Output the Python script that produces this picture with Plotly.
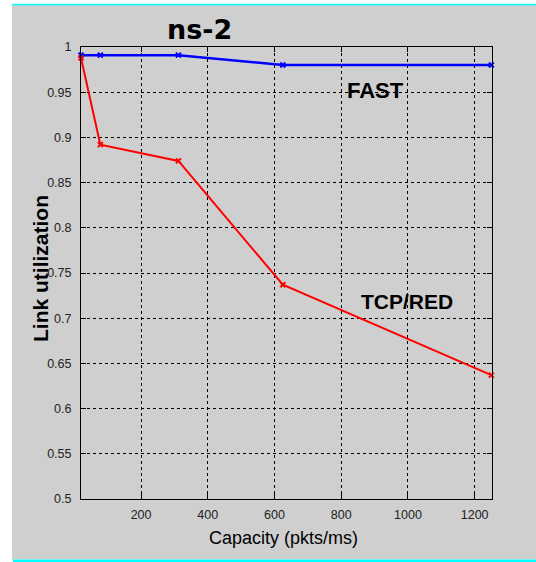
import plotly.graph_objects as go

# Link utilization vs. capacity (ns-2 simulation)
capacity = [20, 78, 312, 625, 1250]
fast_util = [0.991, 0.991, 0.991, 0.980, 0.980]
tcp_red_util = [0.988, 0.892, 0.874, 0.737, 0.637]

x_ticks = [200, 400, 600, 800, 1000, 1200]
y_ticks = [0.5, 0.55, 0.6, 0.65, 0.7, 0.75, 0.8, 0.85, 0.9, 0.95, 1.0]
y_tick_text = ["0.5", "0.55", "0.6", "0.65", "0.7", "0.75", "0.8", "0.85", "0.9", "0.95", "1"]

W, H = 536, 562
L, R, T, B = 81, 44, 47, 63
PW, PH = W - L - R, H - T - B


def px_x(px):
    return (px - L) / PW


def px_y(py):
    return (H - B - py) / PH


SANS = "Liberation Sans, Arial, sans-serif"

fig = go.Figure()

fig.add_trace(go.Scatter(
    x=capacity, y=fast_util, mode="lines+markers", name="FAST",
    line=dict(color="#0000ff", width=2.5),
    marker=dict(symbol="x-thin-open", size=5, color="#0000ff",
                line=dict(color="#0000ff", width=2)),
    cliponaxis=False,
))
fig.add_trace(go.Scatter(
    x=capacity, y=tcp_red_util, mode="lines+markers", name="TCP/RED",
    line=dict(color="#ff0000", width=2),
    marker=dict(symbol="x-thin-open", size=5, color="#ff0000",
                line=dict(color="#ff0000", width=2)),
    cliponaxis=False,
))

axis_common = dict(
    showline=True, linecolor="black", linewidth=1, mirror="ticks",
    ticks="inside", ticklen=5, tickcolor="black",
    showgrid=True, gridcolor="black", gridwidth=1, griddash="3px,3px",
    zeroline=False,
    tickfont=dict(family=SANS, size=12.5, color="#222222"),
)

fig.update_xaxes(range=[20, 1252], tickvals=x_ticks,
                 ticklabelstandoff=4, **axis_common)
fig.update_yaxes(range=[0.5, 1.0], tickvals=y_ticks, ticktext=y_tick_text,
                 ticklabelstandoff=6, **axis_common)

shapes = [
    # gray figure background
    dict(type="rect", xref="paper", yref="paper",
         x0=px_x(12), x1=px_x(W + 2), y0=px_y(559.5), y1=px_y(5),
         fillcolor="#cfcfcf", line=dict(width=0), layer="below"),
    # cyan frame lines at top and bottom
    dict(type="line", xref="paper", yref="paper",
         x0=px_x(12), x1=px_x(W + 2), y0=px_y(4.5), y1=px_y(4.5),
         line=dict(color="#00ffff", width=1.5)),
    dict(type="line", xref="paper", yref="paper",
         x0=px_x(13), x1=px_x(W + 2), y0=px_y(561), y1=px_y(561),
         line=dict(color="#00ffff", width=3)),
]

annotations = [
    dict(text="ns-2", xref="paper", yref="paper", x=px_x(199), y=px_y(29),
         showarrow=False, xanchor="center", yanchor="middle",
         font=dict(family="DejaVu Sans, Verdana, sans-serif", size=27,
                   color="black", weight="bold")),
    dict(text="Capacity (pkts/ms)", xref="paper", yref="paper",
         x=px_x(283), y=px_y(538), showarrow=False,
         xanchor="center", yanchor="middle",
         font=dict(family=SANS, size=18, color="black")),
    dict(text="Link utilization", xref="paper", yref="paper",
         x=px_x(40), y=px_y(269), showarrow=False, textangle=-90,
         xanchor="center", yanchor="middle",
         font=dict(family=SANS, size=21, color="black", weight="bold")),
    dict(text="FAST", x=903, y=0.952, xref="x", yref="y", showarrow=False,
         xanchor="center", yanchor="middle",
         font=dict(family=SANS, size=22, color="black", weight="bold")),
    dict(text="TCP/RED", x=997, y=0.718, xref="x", yref="y", showarrow=False,
         xanchor="center", yanchor="middle",
         font=dict(family=SANS, size=21, color="black", weight="bold")),
]

fig.update_layout(
    width=W, height=H,
    margin=dict(l=L, r=R, t=T, b=B, pad=0),
    paper_bgcolor="white", plot_bgcolor="white",
    showlegend=False,
    shapes=shapes, annotations=annotations,
)

fig.write_html("out.html")
